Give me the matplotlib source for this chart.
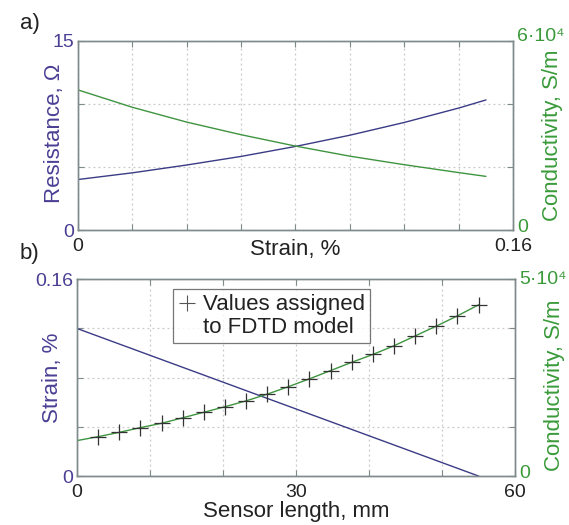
import matplotlib
matplotlib.use("Agg")
import matplotlib.pyplot as plt
from matplotlib.lines import Line2D
from matplotlib.transforms import ScaledTranslation
import numpy as np

plt.rcParams['font.family'] = ['Liberation Sans', 'DejaVu Sans']

# ---- Panel a) data ----
strain_a = [0.0, 0.02, 0.04, 0.06, 0.08, 0.10, 0.12, 0.14, 0.15]
resistance = [4.0, 4.53, 5.15, 5.83, 6.62, 7.51, 8.52, 9.66, 10.3]
conductivity_a = [4.44e4, 3.89e4, 3.42e4, 3.02e4, 2.66e4, 2.34e4, 2.07e4, 1.82e4, 1.70e4]

# ---- Panel b) data ----
length_line = [0.0, 55.0]
strain_b = [0.12, 0.0]
n_seg = 19
length_pts = [0.0] + [k * 55.0 / n_seg for k in range(1, n_seg + 1)]
conductivity_b = [0.90e4, 1.00e4, 1.11e4, 1.23e4, 1.34e4, 1.48e4, 1.62e4, 1.76e4, 1.91e4,
                  2.08e4, 2.27e4, 2.47e4, 2.68e4, 2.89e4, 3.09e4, 3.31e4, 3.56e4,
                  3.81e4, 4.07e4, 4.35e4]

BLUE_LINE = '#3b3b86'
BLUE_TXT = '#4a3f94'
GREEN = '#3f9440'
GREEN_TXT = '#3a9a3a'
SPINE = '#7f8a8a'
GRID = '#c8c8c8'
TICK_FS = 14
LAB_FS = 16

fig = plt.figure(figsize=(5.69, 5.25), dpi=100)

def style(ax, ax2):
    for s in list(ax.spines.values()) + list(ax2.spines.values()):
        s.set_color(SPINE)
        s.set_linewidth(1.0)
    ax.tick_params(axis='both', direction='in', length=4, color=SPINE,
                   labelsize=TICK_FS, top=True, right=False)
    ax.tick_params(axis='y', labelcolor=BLUE_TXT, pad=3)
    ax.tick_params(axis='x', labelcolor='#222222', pad=6)
    ax2.tick_params(axis='y', direction='in', length=4, color=SPINE,
                    labelsize=TICK_FS, labelcolor=GREEN_TXT, pad=3)
    ax.grid(True, color=GRID, linestyle=(0, (1.5, 2.5)), linewidth=0.9)
    ax.set_axisbelow(True)

def shift_label(lab, dy_px):
    lab.set_transform(lab.get_transform() + ScaledTranslation(0, dy_px / 100, fig.dpi_scale_trans))

# ---------------- a) ----------------
axa = fig.add_axes([0.137, 0.5619, 0.7645, 0.3606])
axa2 = axa.twinx()
axa.plot(strain_a, resistance, color=BLUE_LINE, lw=1.0)
axa2.plot(strain_a, conductivity_a, color=GREEN, lw=1.0)
axa.set_xlim(0, 0.16)
axa.set_ylim(0, 15)
axa2.set_ylim(0, 6e4)
xt = np.arange(0, 0.1601, 0.02)
axa.set_xticks(xt)
axa.set_xticklabels(['0'] + [''] * (len(xt) - 2) + ['0.16'])
axa.set_yticks([0, 5, 10, 15])
axa.set_yticklabels(['0', '', '', '15'])
axa2.set_yticks([0, 2e4, 4e4, 6e4])
axa2.set_yticklabels(['0', '', '', '6·10⁴'])
style(axa, axa2)
shift_label(axa2.get_yticklabels()[0], 5)
shift_label(axa2.get_yticklabels()[-1], 6)
axa.set_xlabel('Strain, %', fontsize=LAB_FS, color='#222222')
axa.xaxis.set_label_coords(0.5, -0.045)
axa.set_ylabel('Resistance, Ω', fontsize=LAB_FS, color=BLUE_TXT)
axa.yaxis.set_label_coords(-0.03, 0.51)
axa2.set_ylabel('Conductivity, S/m', fontsize=LAB_FS, color=GREEN_TXT)
axa2.yaxis.set_label_coords(1.066, 0.50)

# ---------------- b) ----------------
axb = fig.add_axes([0.1353, 0.0933, 0.7698, 0.3747])
axb2 = axb.twinx()
axb.plot(length_line, strain_b, color=BLUE_LINE, lw=1.0)
axb2.plot(length_pts, conductivity_b, color=GREEN, lw=1.0)
axb2.plot(length_pts[1:], conductivity_b[1:], ls='none', marker='+',
          markersize=11, markeredgewidth=0.9, color='#333333')
axb.set_xlim(0, 60)
axb.set_ylim(0, 0.16)
axb2.set_ylim(0, 5e4)
axb.set_xticks(np.arange(0, 61, 10))
axb.set_xticklabels(['0', '', '', '30', '', '', '60'])
axb.set_yticks(np.arange(0, 0.1601, 0.04))
axb.set_yticklabels(['0', '', '', '', '0.16'])
axb2.set_yticks(np.linspace(0, 5e4, 5))
axb2.set_yticklabels(['0', '', '', '', '5·10⁴'])
style(axb, axb2)
shift_label(axb2.get_yticklabels()[0], 5)
shift_label(axb2.get_yticklabels()[-1], 2)
axb.set_xlabel('Sensor length, mm', fontsize=LAB_FS, color='#222222')
axb.xaxis.set_label_coords(0.5, -0.125)
axb.set_ylabel('Strain, %', fontsize=LAB_FS, color=BLUE_TXT)
axb.yaxis.set_label_coords(-0.032, 0.5)
axb2.set_ylabel('Conductivity, S/m', fontsize=LAB_FS, color=GREEN_TXT)
axb2.yaxis.set_label_coords(1.066, 0.46)

h1 = Line2D([], [], ls='none', marker='+', markersize=11, markeredgewidth=0.8, color='#555555')
h2 = Line2D([], [], ls='none', marker='')
leg = axb2.legend([h1, h2], ['Values assigned', 'to FDTD model'],
                  loc='upper left', bbox_to_anchor=(0.219, 0.951), borderaxespad=0,
                  fontsize=LAB_FS, frameon=True, fancybox=False, handlelength=0.8,
                  handletextpad=0.3, labelspacing=0.05, borderpad=0.25)
leg.get_frame().set_edgecolor('#555555')
leg.get_frame().set_linewidth(0.9)
for t in leg.get_texts():
    t.set_color('#222222')

fig.text(0.035, 1 - 24 / 525, 'a)', fontsize=LAB_FS, color='#222222', ha='left', va='center')
fig.text(0.035, 1 - 254 / 525, 'b)', fontsize=LAB_FS, color='#222222', ha='left', va='center')

fig.savefig('out.png', dpi=100)
